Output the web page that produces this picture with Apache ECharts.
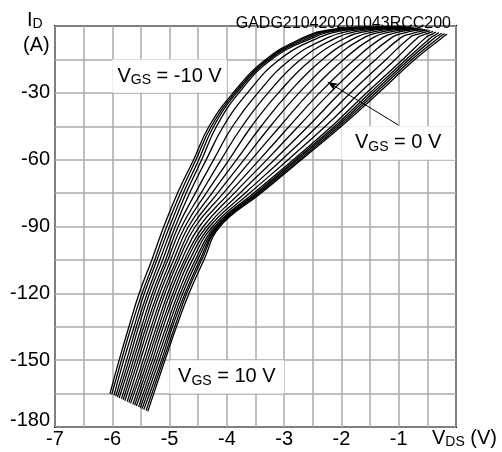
<!DOCTYPE html>
<html>
<head>
<meta charset="utf-8">
<script src="https://cdn.jsdelivr.net/npm/echarts@6/dist/echarts.min.js"></script>
<style>
  html, body { margin: 0; padding: 0; background: #fff; }
  #main { width: 502px; height: 452px; }
</style>
</head>
<body>
<div id="main"></div>
<script>
// gate voltages of the 21 curves, VGS = -10 V ... 10 V
const vgsSteps = [-10, -9, -8, -7, -6, -5, -4, -3, -2, -1, 0, 1, 2, 3, 4, 5, 6, 7, 8, 9, 10];

// current levels where VDS was read for every curve
const idLevels = [-5, -15, -30, -45, -60, -75, -90, -105, -120, -135, -150];

// VDS of each curve (VGS -10 ... 10) at the current levels above
const vdsByLevel = [
    [-2.65, -2.60, -2.54, -2.47, -2.38, -2.22, -2.06, -1.90, -1.74, -1.59, -1.43, -1.27, -1.11, -0.95, -0.80, -0.66, -0.52, -0.43, -0.36, -0.29, -0.23],
    [-3.32, -3.29, -3.26, -3.22, -3.08, -2.89, -2.71, -2.52, -2.33, -2.15, -1.96, -1.77, -1.59, -1.40, -1.22, -1.06, -0.93, -0.87, -0.82, -0.77, -0.72],
    [-3.89, -3.86, -3.83, -3.79, -3.64, -3.46, -3.28, -3.10, -2.92, -2.74, -2.56, -2.38, -2.20, -2.02, -1.84, -1.68, -1.56, -1.50, -1.45, -1.40, -1.35],
    [-4.31, -4.27, -4.23, -4.18, -4.06, -3.90, -3.73, -3.57, -3.40, -3.24, -3.07, -2.91, -2.75, -2.58, -2.42, -2.28, -2.17, -2.12, -2.08, -2.04, -2.00],
    [-4.58, -4.54, -4.49, -4.44, -4.36, -4.23, -4.10, -3.96, -3.83, -3.70, -3.57, -3.43, -3.30, -3.17, -3.04, -2.93, -2.84, -2.80, -2.77, -2.73, -2.70],
    [-4.86, -4.81, -4.76, -4.71, -4.65, -4.55, -4.45, -4.36, -4.26, -4.16, -4.06, -3.96, -3.87, -3.77, -3.68, -3.60, -3.53, -3.49, -3.46, -3.43, -3.40],
    [-5.10, -5.05, -5.00, -4.95, -4.90, -4.85, -4.79, -4.73, -4.67, -4.61, -4.55, -4.48, -4.41, -4.35, -4.30, -4.25, -4.21, -4.18, -4.16, -4.14, -4.12],
    [-5.31, -5.26, -5.22, -5.17, -5.12, -5.07, -5.03, -4.98, -4.93, -4.88, -4.84, -4.79, -4.74, -4.70, -4.65, -4.60, -4.55, -4.51, -4.47, -4.44, -4.40],
    [-5.53, -5.48, -5.44, -5.39, -5.35, -5.30, -5.26, -5.21, -5.17, -5.12, -5.08, -5.03, -4.99, -4.94, -4.90, -4.85, -4.81, -4.77, -4.73, -4.70, -4.66],
    [-5.71, -5.67, -5.62, -5.58, -5.54, -5.49, -5.45, -5.41, -5.37, -5.32, -5.28, -5.23, -5.19, -5.15, -5.11, -5.06, -5.02, -4.98, -4.95, -4.91, -4.88],
    [-5.88, -5.84, -5.80, -5.75, -5.71, -5.67, -5.63, -5.59, -5.55, -5.51, -5.46, -5.42, -5.38, -5.34, -5.30, -5.26, -5.22, -5.18, -5.14, -5.11, -5.08]
];

// upper ends of the curves [VDS, ID] and two points on the bend below them
const topEnds = [[-0.95, -0.2], [-0.92, -0.3], [-0.89, -0.4], [-0.86, -0.5], [-0.83, -0.6], [-0.80, -0.7], [-0.77, -0.8],
    [-0.74, -0.9], [-0.70, -1.0], [-0.66, -1.1], [-0.62, -1.25], [-0.58, -1.4], [-0.54, -1.6], [-0.50, -1.8],
    [-0.45, -2.1], [-0.40, -2.4], [-0.35, -2.7], [-0.30, -3.0], [-0.25, -3.2], [-0.20, -3.4], [-0.16, -3.6]];
const topBendB = [[-1.70, -0.5], [-1.65, -0.6], [-1.60, -0.7], [-1.55, -0.8], [-1.48, -0.9], [-1.38, -1.0], [-1.28, -1.1],
    [-1.18, -1.2], [-1.08, -1.3], [-0.99, -1.45], [-0.90, -1.6], [-0.81, -1.8], [-0.73, -2.1], [-0.64, -2.5],
    [-0.56, -2.9], [-0.48, -3.2], [-0.40, -3.4], [-0.34, -3.6], [-0.28, -3.8], [-0.23, -3.9], [-0.18, -4.1]];
const topBendA = [[-2.25, -1.9], [-2.20, -1.95], [-2.14, -2.0], [-2.07, -2.05], [-1.98, -2.1], [-1.84, -2.2], [-1.70, -2.3],
    [-1.56, -2.4], [-1.42, -2.5], [-1.29, -2.6], [-1.16, -2.75], [-1.03, -2.9], [-0.90, -3.1], [-0.79, -3.5],
    [-0.68, -3.8], [-0.57, -4.0], [-0.46, -4.2], [-0.38, -4.3], [-0.32, -4.4], [-0.26, -4.5], [-0.21, -4.6]];

// lower ends of the curves [VDS, ID]
const bottomEnds = [[-6.04, -165.0], [-6.01, -165.4], [-5.97, -165.8], [-5.94, -166.2], [-5.91, -166.6], [-5.88, -167.0],
    [-5.84, -167.4], [-5.81, -167.8], [-5.78, -168.2], [-5.74, -168.6], [-5.71, -169.0], [-5.68, -169.4],
    [-5.64, -169.8], [-5.61, -170.2], [-5.58, -170.6], [-5.54, -171.0], [-5.51, -171.4], [-5.48, -171.8],
    [-5.45, -172.2], [-5.41, -172.6], [-5.38, -173.0]];

const xTicks = [-7, -6, -5, -4, -3, -2, -1];
const yTicks = [-30, -60, -90, -120, -150, -180];

const font = '"Liberation Sans", Arial, sans-serif';
const richText = {
    v: {fontSize: 20, fontFamily: font, color: '#000'},
    s: {fontSize: 14, fontFamily: font, color: '#000', verticalAlign: 'bottom', padding: [0, 0, -1, 0]}
};

const chart = echarts.init(document.getElementById('main'), null, {renderer: 'canvas'});

const series = vgsSteps.map((vgs, i) => {
    const pts = [topEnds[i], topBendB[i], topBendA[i]];
    idLevels.forEach((id, k) => pts.push([vdsByLevel[k][i], id]));
    pts.push(bottomEnds[i]);
    return {
        name: 'VGS ' + vgs,
        type: 'line',
        data: pts,
        symbol: 'none',
        smooth: 0.45,
        silent: true,
        lineStyle: {color: '#000', width: 1.3}
    };
});

// white label boxes and the arrow to the VGS = 0 V curve
series[0].markArea = {
    silent: true,
    itemStyle: {color: '#fff'},
    label: {show: true, position: 'inside', rich: richText},
    data: [
        [{coord: [-6, -15], label: {formatter: '{v|V}{s|GS}{v| = -10 V}'}}, {coord: [-4, -30]}],
        [{coord: [-2, -45], label: {formatter: '{v|V}{s|GS}{v| = 0 V}'}}, {coord: [-0.02, -60]}],
        [{coord: [-5, -150], label: {formatter: '{v|V}{s|GS}{v| = 10 V}'}}, {coord: [-3, -165]}]
    ]
};
series[0].markLine = {
    silent: true,
    symbol: ['none', 'arrow'],
    symbolSize: [6, 10],
    label: {show: false},
    lineStyle: {color: '#000', width: 1, type: 'solid'},
    data: [[{coord: [-1.01, -44.4]}, {coord: [-2.24, -25.1]}]]
};

chart.setOption({
    animation: false,
    backgroundColor: '#fff',
    title: {
        text: 'GADG210420201043RCC200',
        right: 46,
        top: 11,
        textStyle: {fontSize: 16, fontWeight: 'normal', color: '#000', fontFamily: font}
    },
    grid: {left: 55, right: 46, top: 26, bottom: 25, show: true, borderColor: '#000', borderWidth: 2},
    xAxis: {
        type: 'value',
        min: -7,
        max: 0,
        interval: 0.5,
        axisLine: {show: false},
        axisTick: {show: false},
        splitLine: {lineStyle: {color: '#aaa', width: 1.5}},
        axisLabel: {
            interval: 0,
            margin: 2,
            fontSize: 20,
            fontFamily: font,
            color: '#000',
            formatter: v => xTicks.indexOf(v) >= 0 ? String(v) : ''
        }
    },
    yAxis: {
        type: 'value',
        min: -180,
        max: 0,
        interval: 15,
        axisLine: {show: false},
        axisTick: {show: false},
        splitLine: {lineStyle: {color: '#aaa', width: 1.5}},
        axisLabel: {
            margin: 5,
            fontSize: 20,
            fontFamily: font,
            color: '#000',
            rich: {low: {fontSize: 20, fontFamily: font, color: '#000', padding: [0, 0, 14, 0]}},
            formatter: v => {
                if (yTicks.indexOf(v) < 0) return '';
                return v === -180 ? '{low|' + v + '}' : String(v);
            }
        }
    },
    graphic: [
        {type: 'text', left: 27, top: 10, style: {text: '{v|I}{s|D}', rich: richText}},
        {type: 'text', left: 23, top: 35, style: {text: '{v|(A)}', rich: richText}},
        {type: 'text', left: 432, top: 428, style: {text: '{v|V}{s|DS}{v| (V)}', rich: richText}}
    ],
    series: series
});
</script>
</body>
</html>
